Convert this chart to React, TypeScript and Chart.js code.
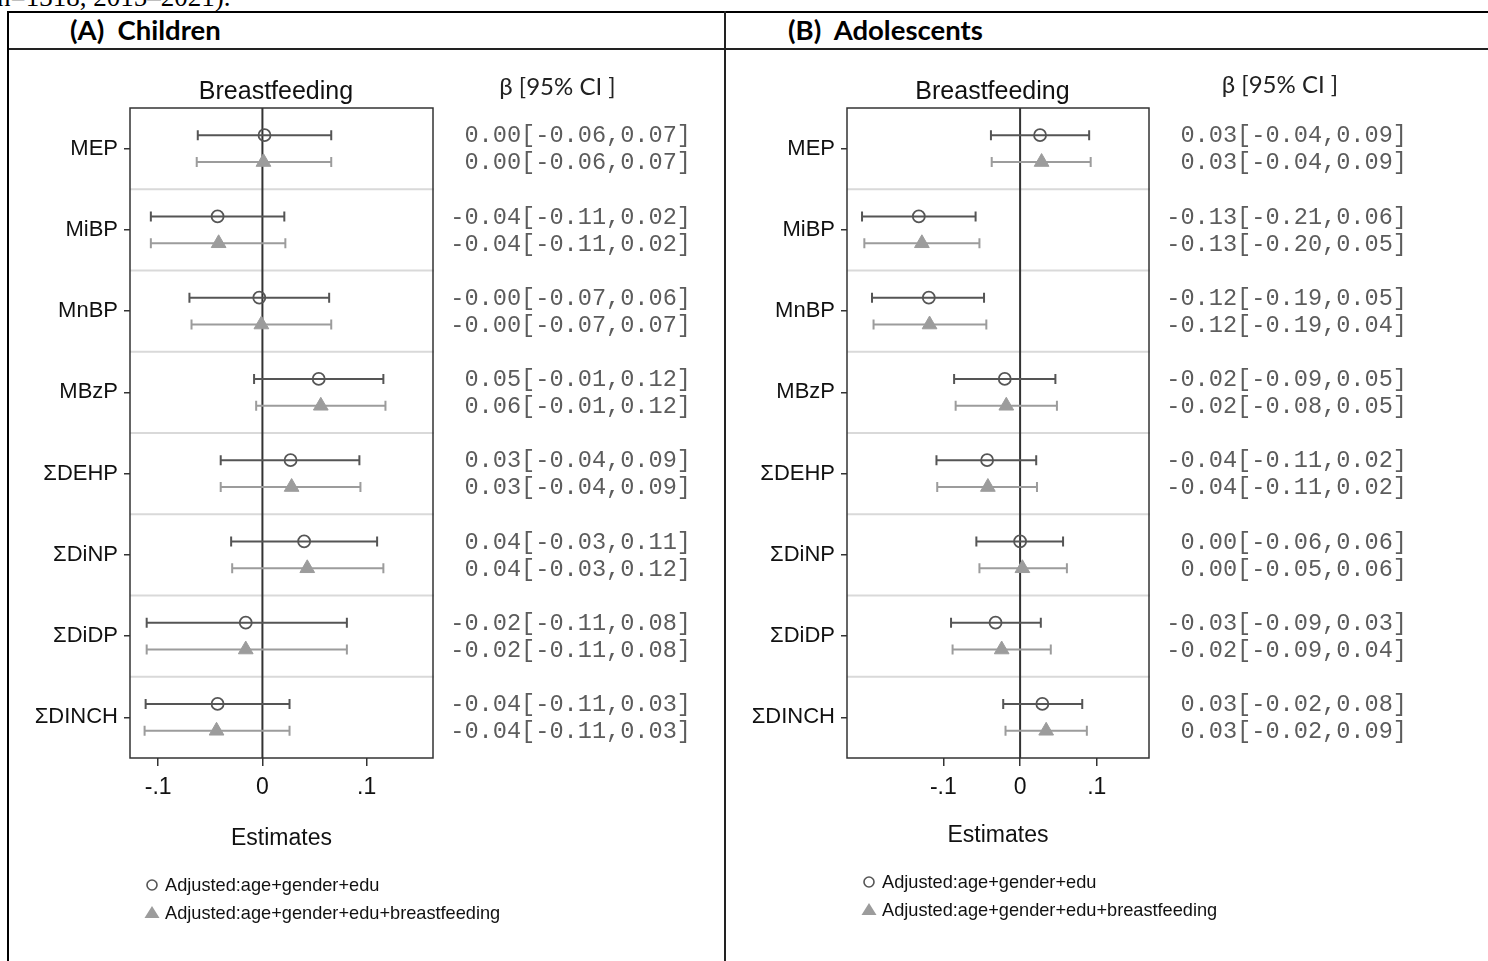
import { useEffect, useRef } from "react";
import { Chart, registerables } from "chart.js";

Chart.register(...registerables);

// Exposure rows (top to bottom)
const exposures = ["MEP", "MiBP", "MnBP", "MBzP", "ΣDEHP", "ΣDiNP", "ΣDiDP", "ΣDINCH"];
const xTickValues = [-0.1, 0, 0.1];
const xTickLabels = ["-.1", "0", ".1"];
const seriesNames = ["Adjusted:age+gender+edu", "Adjusted:age+gender+edu+breastfeeding"];

// (A) Children — model 1: age + gender + edu
const childBaseEst = [0.002, -0.043, -0.003, 0.054, 0.027, 0.04, -0.016, -0.043];
const childBaseLo = [-0.062, -0.107, -0.07, -0.008, -0.04, -0.03, -0.111, -0.112];
const childBaseHi = [0.066, 0.021, 0.064, 0.116, 0.093, 0.11, 0.081, 0.026];
// (A) Children — model 2: + breastfeeding
const childBfEst = [0.001, -0.042, -0.001, 0.056, 0.028, 0.043, -0.016, -0.044];
const childBfLo = [-0.063, -0.107, -0.068, -0.006, -0.04, -0.029, -0.111, -0.113];
const childBfHi = [0.066, 0.022, 0.066, 0.118, 0.094, 0.116, 0.081, 0.026];
const childBaseText = [
  "0.00[-0.06,0.07]", "-0.04[-0.11,0.02]", "-0.00[-0.07,0.06]", "0.05[-0.01,0.12]",
  "0.03[-0.04,0.09]", "0.04[-0.03,0.11]", "-0.02[-0.11,0.08]", "-0.04[-0.11,0.03]",
];
const childBfText = [
  "0.00[-0.06,0.07]", "-0.04[-0.11,0.02]", "-0.00[-0.07,0.07]", "0.06[-0.01,0.12]",
  "0.03[-0.04,0.09]", "0.04[-0.03,0.12]", "-0.02[-0.11,0.08]", "-0.04[-0.11,0.03]",
];

// (B) Adolescents — model 1: age + gender + edu
const adolBaseEst = [0.026, -0.132, -0.119, -0.02, -0.043, 0.0, -0.032, 0.029];
const adolBaseLo = [-0.038, -0.206, -0.193, -0.086, -0.109, -0.057, -0.09, -0.022];
const adolBaseHi = [0.09, -0.058, -0.047, 0.046, 0.021, 0.056, 0.027, 0.081];
// (B) Adolescents — model 2: + breastfeeding
const adolBfEst = [0.028, -0.128, -0.118, -0.018, -0.042, 0.003, -0.024, 0.034];
const adolBfLo = [-0.037, -0.203, -0.191, -0.084, -0.108, -0.053, -0.088, -0.019];
const adolBfHi = [0.092, -0.053, -0.044, 0.048, 0.022, 0.061, 0.04, 0.087];
const adolBaseText = [
  "0.03[-0.04,0.09]", "-0.13[-0.21,0.06]", "-0.12[-0.19,0.05]", "-0.02[-0.09,0.05]",
  "-0.04[-0.11,0.02]", "0.00[-0.06,0.06]", "-0.03[-0.09,0.03]", "0.03[-0.02,0.08]",
];
const adolBfText = [
  "0.03[-0.04,0.09]", "-0.13[-0.20,0.05]", "-0.12[-0.19,0.04]", "-0.02[-0.08,0.05]",
  "-0.04[-0.11,0.02]", "0.00[-0.05,0.06]", "-0.02[-0.09,0.04]", "0.03[-0.02,0.09]",
];

const SANS = '"Liberation Sans", Arial, Helvetica, sans-serif';
const MONO = '"Liberation Mono", "Courier New", monospace';
const HEAD = 'Lato, "Open Sans", sans-serif';

const DARK = "#555555";
const LIGHT = "#9c9c9c";
const ROW_SHIFT = 0.165; // vertical offset of the two models inside a row
const CANVAS_TOP = 50;
const CANVAS_H = 911;

type Panel = {
  left: number;
  width: number;
  axisWidth: number;
  padRight: number;
  xMin: number;
  xMax: number;
  est: number[][];
  lo: number[][];
  hi: number[][];
  text: string[][];
  headerDx: number;
  headerY: number;
  estimatesPad: number;
  legendY: number;
};

const panels: Panel[] = [
  {
    left: 9, width: 715, axisWidth: 121, padRight: 291,
    xMin: -0.127, xMax: 0.1636,
    est: [childBaseEst, childBfEst], lo: [childBaseLo, childBfLo], hi: [childBaseHi, childBfHi],
    text: [childBaseText, childBfText],
    headerDx: 124.5, headerY: 45, estimatesPad: 109, legendY: 835,
  },
  {
    left: 727, width: 761, axisWidth: 120, padRight: 339,
    xMin: -0.2256, xMax: 0.168,
    est: [adolBaseEst, adolBfEst], lo: [adolBaseLo, adolBfLo], hi: [adolBaseHi, adolBfHi],
    text: [adolBaseText, adolBfText],
    headerDx: 131, headerY: 43, estimatesPad: 112, legendY: 832,
  },
];

function forestPlugin(p: Panel) {
  return {
    id: "forest",
    beforeDatasetsDraw(chart: any) {
      const { ctx, chartArea: a, scales } = chart;
      const x = scales.x;
      const y = scales.y;
      ctx.save();
      // light separators between exposures
      ctx.strokeStyle = "#d9d9d9";
      ctx.lineWidth = 2;
      for (let i = 0; i < exposures.length - 1; i++) {
        const py = y.getPixelForValue(i + 0.5);
        ctx.beginPath();
        ctx.moveTo(a.left, py);
        ctx.lineTo(a.right + 1, py);
        ctx.stroke();
      }
      // null-effect line
      const zx = x.getPixelForValue(0);
      ctx.strokeStyle = "#333";
      ctx.lineWidth = 2;
      ctx.beginPath();
      ctx.moveTo(zx, a.top);
      ctx.lineTo(zx, a.bottom);
      ctx.stroke();
      // confidence intervals with caps
      chart.data.datasets.forEach((ds: any, d: number) => {
        ctx.strokeStyle = d === 0 ? DARK : LIGHT;
        ctx.lineWidth = 2;
        ds.data.forEach((pt: any, i: number) => {
          const py = y.getPixelForValue(pt.y);
          const x1 = x.getPixelForValue(p.lo[d][i]);
          const x2 = x.getPixelForValue(p.hi[d][i]);
          ctx.beginPath();
          ctx.moveTo(x1, py);
          ctx.lineTo(x2, py);
          ctx.moveTo(x1, py - 5);
          ctx.lineTo(x1, py + 5);
          ctx.moveTo(x2, py - 5);
          ctx.lineTo(x2, py + 5);
          ctx.stroke();
        });
      });
      // plot frame
      ctx.strokeStyle = "#333";
      ctx.lineWidth = 1.5;
      ctx.strokeRect(a.left, a.top, a.right - a.left, a.bottom - a.top);
      ctx.restore();
    },
    afterDraw(chart: any) {
      const { ctx, chartArea: a, scales } = chart;
      const y = scales.y;
      ctx.save();
      // plot title
      ctx.fillStyle = "#111";
      ctx.font = `25px ${SANS}`;
      ctx.textAlign = "center";
      ctx.textBaseline = "alphabetic";
      ctx.fillText("Breastfeeding", (a.left + a.right) / 2 - 5.5, 49);
      // column header
      ctx.fillStyle = "#222";
      ctx.font = `24px ${HEAD}`;
      ctx.fillText("β [95% CI ]", a.right + p.headerDx, p.headerY);
      // estimate text column
      ctx.fillStyle = "#5c5c5c";
      ctx.font = `23.6px ${MONO}`;
      ctx.textAlign = "right";
      ctx.textBaseline = "middle";
      chart.data.datasets.forEach((ds: any, d: number) => {
        ds.data.forEach((pt: any, i: number) => {
          ctx.fillText(p.text[d][i], a.right + 258, y.getPixelForValue(pt.y) + 1);
        });
      });
      // legend
      const mx = a.left + 22;
      const tx = a.left + 35;
      ctx.font = `18.2px ${SANS}`;
      ctx.textAlign = "left";
      ctx.textBaseline = "middle";
      seriesNames.forEach((name, d) => {
        const my = p.legendY + d * 28;
        if (d === 0) {
          ctx.strokeStyle = DARK;
          ctx.lineWidth = 1.6;
          ctx.beginPath();
          ctx.arc(mx, my, 5, 0, Math.PI * 2);
          ctx.stroke();
        } else {
          ctx.fillStyle = LIGHT;
          ctx.beginPath();
          ctx.moveTo(mx, my - 7);
          ctx.lineTo(mx + 7.5, my + 5);
          ctx.lineTo(mx - 7.5, my + 5);
          ctx.closePath();
          ctx.fill();
        }
        ctx.fillStyle = "#111";
        ctx.fillText(name, tx, my + 1);
      });
      ctx.restore();
    },
  };
}

function ForestPanel({ p }: { p: Panel }) {
  const ref = useRef<HTMLCanvasElement>(null);
  useEffect(() => {
    const canvas = ref.current;
    if (!canvas) return;
    const chart = new Chart(canvas, {
      type: "scatter",
      data: {
        datasets: [
          {
            label: seriesNames[0],
            data: exposures.map((_, i) => ({ x: p.est[0][i], y: i - ROW_SHIFT })),
            pointStyle: "circle",
            pointRadius: 6,
            pointBorderWidth: 1.8,
            borderColor: DARK,
            backgroundColor: "rgba(0,0,0,0)",
          },
          {
            label: seriesNames[1],
            data: exposures.map((_, i) => ({ x: p.est[1][i], y: i + ROW_SHIFT })),
            pointStyle: "triangle",
            pointRadius: 8.5,
            pointBorderWidth: 1,
            borderColor: LIGHT,
            backgroundColor: LIGHT,
          },
        ],
      },
      options: {
        responsive: false,
        animation: false,
        events: [],
        layout: { padding: { top: 58, right: p.padRight, left: 0, bottom: 0 } },
        plugins: {
          legend: { display: false },
          tooltip: { enabled: false },
          title: { display: false },
        },
        scales: {
          x: {
            type: "linear",
            min: p.xMin,
            max: p.xMax,
            afterBuildTicks: (s: any) => {
              s.ticks = xTickValues.map((v) => ({ value: v }));
            },
            afterFit: (s: any) => {
              s.height = CANVAS_H - 58 - 650;
            },
            ticks: {
              callback: (_v: any, i: number) => xTickLabels[i],
              font: { family: SANS, size: 23 },
              color: "#111",
              padding: 8,
              maxRotation: 0,
            },
            grid: { drawOnChartArea: false, drawTicks: true, tickLength: 8, color: "#333", lineWidth: 1.5 },
            border: { display: false },
            title: {
              display: true,
              text: "Estimates",
              font: { family: SANS, size: 23 },
              color: "#111",
              padding: { top: 0, bottom: p.estimatesPad },
            },
          },
          y: {
            type: "linear",
            min: -0.5,
            max: exposures.length - 0.5,
            reverse: true,
            afterBuildTicks: (s: any) => {
              s.ticks = exposures.map((_, i) => ({ value: i }));
            },
            afterFit: (s: any) => {
              s.width = p.axisWidth;
            },
            ticks: {
              callback: (_v: any, i: number) => exposures[i],
              font: { family: SANS, size: 22 },
              color: "#111",
              padding: 6,
            },
            grid: { drawOnChartArea: false, drawTicks: true, tickLength: 6, color: "#333", lineWidth: 1.5 },
            border: { display: false },
          },
        },
      },
      plugins: [forestPlugin(p)],
    } as any);
    return () => chart.destroy();
  }, [p]);
  return (
    <canvas
      ref={ref}
      width={p.width}
      height={CANVAS_H}
      style={{ position: "absolute", left: p.left, top: CANVAS_TOP, width: p.width, height: CANVAS_H }}
    />
  );
}

const line = (left: number, top: number, width: number, height: number, color: string) => (
  <div style={{ position: "absolute", left, top, width, height, background: color }} />
);

const headerStyle = {
  position: "absolute" as const,
  top: 16,
  fontFamily: HEAD,
  fontWeight: 700,
  fontSize: 27.5,
  lineHeight: 1,
  whiteSpace: "pre" as const,
  color: "#000",
};

export default function App() {
  return (
    <div
      style={{
        position: "absolute",
        left: 0,
        top: 0,
        width: 1488,
        height: 961,
        overflow: "hidden",
        background: "#fff",
      }}
    >
      <div
        style={{
          position: "absolute",
          left: -3,
          top: -16,
          fontFamily: '"Liberation Serif", "Times New Roman", serif',
          fontSize: 27,
          lineHeight: 1,
          whiteSpace: "pre",
          color: "#000",
        }}
      >
        n=1318, 2015–2021).
      </div>
      {line(7, 11, 1481, 2, "#000")}
      {line(7, 48, 1481, 2, "#222")}
      {line(7, 11, 2, 950, "#000")}
      {line(724, 11, 2, 950, "#222")}
      <div style={{ ...headerStyle, left: 70 }}>(A)  Children</div>
      <div style={{ ...headerStyle, left: 788 }}>(B)  Adolescents</div>
      {panels.map((p, k) => (
        <ForestPanel key={k} p={p} />
      ))}
    </div>
  );
}
